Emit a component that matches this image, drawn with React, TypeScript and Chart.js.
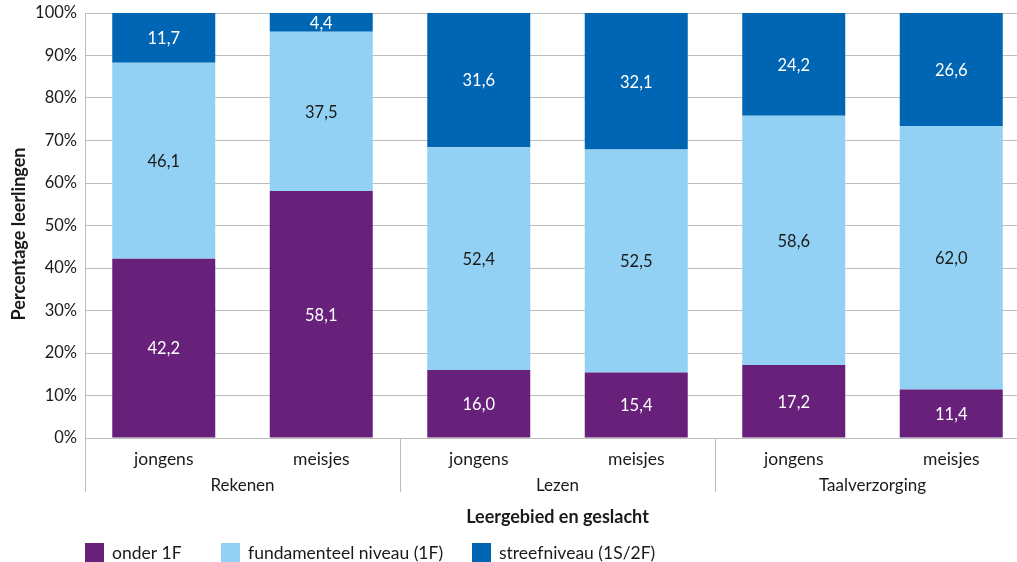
import React, { useEffect, useRef } from "react";
import { Chart, registerables } from "chart.js";

Chart.register(...registerables);

const groups = ["Rekenen", "Lezen", "Taalverzorging"];
const categories = ["jongens", "meisjes", "jongens", "meisjes", "jongens", "meisjes"];
const onder1F = [42.2, 58.1, 16.0, 15.4, 17.2, 11.4];
const fundamenteel = [46.1, 37.5, 52.4, 52.5, 58.6, 62.0];
const streef = [11.7, 4.4, 31.6, 32.1, 24.2, 26.6];
const seriesNames = ["onder 1F", "fundamenteel niveau (1F)", "streefniveau (1S/2F)"];
const yTicks = [0, 10, 20, 30, 40, 50, 60, 70, 80, 90, 100];

const COLORS = ["#68217A", "#92D1F3", "#0066B3"];
const LABEL_COLORS = ["#ffffff", "#1a1a1a", "#ffffff"];
const FONT = "Lato, 'Noto Sans', sans-serif";
const GRID = "#BDBDBD";
const TXT = "#1a1a1a";

export default function App() {
  const ref = useRef<HTMLCanvasElement | null>(null);

  useEffect(() => {
    const canvas = ref.current;
    if (!canvas) return;

    const customPlugin = {
      id: "custom",
      afterDatasetsDraw(chart: any) {
        const ctx = chart.ctx;
        ctx.save();
        ctx.font = `16.5px ${FONT}`;
        ctx.textAlign = "center";
        ctx.textBaseline = "middle";
        chart.data.datasets.forEach((ds: any, di: number) => {
          const meta = chart.getDatasetMeta(di);
          meta.data.forEach((bar: any, i: number) => {
            const v = ds.data[i];
            const yc = (bar.y + bar.base) / 2;
            ctx.fillStyle = LABEL_COLORS[di];
            ctx.fillText(v.toFixed(1).replace(".", ","), bar.x, yc + 1);
          });
        });
        ctx.restore();
      },
      afterDraw(chart: any) {
        const ctx = chart.ctx;
        const x = chart.scales.x;
        const area = chart.chartArea;
        ctx.save();
        ctx.strokeStyle = GRID;
        ctx.lineWidth = 1;
        const bounds: number[] = [area.left];
        for (let g = 1; g < groups.length; g++) {
          bounds.push((x.getPixelForTick(g * 2 - 1) + x.getPixelForTick(g * 2)) / 2);
        }
        bounds.push(area.right);
        bounds.forEach((bx) => {
          const px = Math.round(bx) + 0.5;
          ctx.beginPath();
          ctx.moveTo(px, area.bottom);
          ctx.lineTo(px, area.bottom + 54);
          ctx.stroke();
        });
        ctx.fillStyle = TXT;
        ctx.font = `17px ${FONT}`;
        ctx.textAlign = "center";
        ctx.textBaseline = "middle";
        groups.forEach((g, gi) => {
          const cx = (x.getPixelForTick(gi * 2) + x.getPixelForTick(gi * 2 + 1)) / 2;
          ctx.fillText(g, cx, area.bottom + 48);
        });
        ctx.font = `bold 18px ${FONT}`;
        ctx.fillText("Leergebied en geslacht", (area.left + area.right) / 2, 517);
        ctx.save();
        ctx.translate(19, 234);
        ctx.rotate(-Math.PI / 2);
        ctx.fillText("Percentage leerlingen", 0, 0);
        ctx.restore();
        ctx.font = `17.5px ${FONT}`;
        ctx.textAlign = "left";
        const lx = [85, 221, 472];
        seriesNames.forEach((n, i) => {
          ctx.fillStyle = COLORS[i];
          ctx.fillRect(lx[i], 543, 19, 19);
          ctx.fillStyle = TXT;
          ctx.fillText(n, lx[i] + 27, 553);
        });
        ctx.restore();
      },
    };

    const chart = new Chart(canvas, {
      type: "bar",
      data: {
        labels: categories,
        datasets: [onder1F, fundamenteel, streef].map((d, i) => ({
          label: seriesNames[i],
          data: d,
          backgroundColor: COLORS[i],
          borderWidth: 0,
          barPercentage: 0.654,
          categoryPercentage: 1,
        })),
      },
      options: {
        animation: false,
        responsive: false,
        layout: { padding: { top: 13, right: 15, left: 0, bottom: 0 } },
        plugins: {
          legend: { display: false },
          tooltip: { enabled: false },
        },
        scales: {
          x: {
            stacked: true,
            grid: { display: false, drawTicks: false },
            border: { display: false },
            ticks: {
              color: TXT,
              font: { family: FONT, size: 17.5 },
              padding: 11,
              maxRotation: 0,
            },
            afterFit(scale: any) {
              scale.height = 562 - 438;
            },
          },
          y: {
            stacked: true,
            min: 0,
            max: 100,
            afterBuildTicks(scale: any) {
              scale.ticks = yTicks.map((v) => ({ value: v }));
            },
            grid: { color: GRID, drawTicks: false, lineWidth: 1 },
            border: { display: true, color: GRID },
            ticks: {
              color: TXT,
              font: { family: FONT, size: 16.5 },
              padding: 8,
              callback: (v: any) => `${v}%`,
            },
            afterFit(scale: any) {
              scale.width = 85;
              scale.paddingTop = 0;
              scale.paddingBottom = 0;
            },
          },
        },
      },
      plugins: [customPlugin],
    });

    return () => chart.destroy();
  }, []);

  return (
    <div
      style={{
        position: "fixed",
        left: 0,
        top: 0,
        width: 1017,
        height: 562,
        overflow: "hidden",
        background: "#ffffff",
      }}
    >
      <canvas ref={ref} width={1045} height={562} style={{ display: "block", width: 1045, height: 562 }} />
    </div>
  );
}
